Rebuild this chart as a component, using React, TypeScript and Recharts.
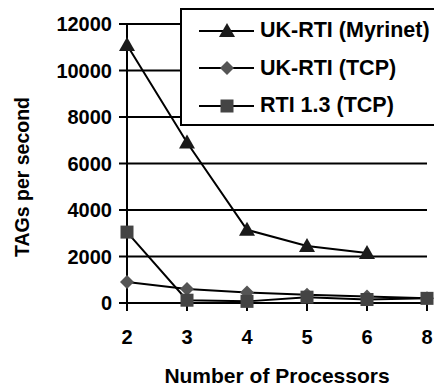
import { CartesianGrid, Label, Legend, Line, LineChart, XAxis, YAxis } from 'recharts'

// 데이터
const processors = ['2', '3', '4', '5', '6', '8']
const ukRtiMyrinet = [11100, 6900, 3150, 2450, 2150, null]
const ukRtiTcp = [900, 600, 450, 350, 280, 200]
const rti13Tcp = [3050, 120, 70, 250, 150, 200]
const yTicks = [0, 2000, 4000, 6000, 8000, 10000, 12000]

const FONT = '"Liberation Sans", Arial, sans-serif'

const SERIES = [
  { key: 'myrinet', label: 'UK-RTI (Myrinet)', color: '#1a1a1a', shape: 'triangle' },
  { key: 'tcp', label: 'UK-RTI (TCP)', color: '#555555', shape: 'diamond' },
  { key: 'rti', label: 'RTI 1.3 (TCP)', color: '#444444', shape: 'square' },
]

const data = processors.map((p, i) => ({
  n: p,
  myrinet: ukRtiMyrinet[i],
  tcp: ukRtiTcp[i],
  rti: rti13Tcp[i],
}))

function Marker({ cx, cy, shape, color }: { cx: number; cy: number; shape: string; color: string }) {
  if (cx == null || cy == null) return null
  if (shape === 'triangle') {
    return <polygon points={`${cx},${cy - 8} ${cx + 8},${cy + 6} ${cx - 8},${cy + 6}`} fill={color} />
  }
  if (shape === 'diamond') {
    return <polygon points={`${cx},${cy - 7} ${cx + 7},${cy} ${cx},${cy + 7} ${cx - 7},${cy}`} fill={color} />
  }
  return <rect x={cx - 6.5} y={cy - 6.5} width={13} height={13} fill={color} />
}

function LegendBox() {
  return (
    <div
      style={{
        background: '#fff',
        border: '2px solid #000',
        width: 270,
        height: 118,
        boxSizing: 'border-box',
        paddingTop: 2,
        fontFamily: FONT,
        fontWeight: 'bold',
        fontSize: 21.5,
      }}
    >
      {SERIES.map((s) => (
        <div key={s.key} style={{ display: 'flex', alignItems: 'center', height: 37.5 }}>
          <svg width={76} height={20} style={{ flex: 'none' }}>
            <line x1={17} y1={10} x2={72} y2={10} stroke="#000" strokeWidth={2} />
            <Marker cx={45} cy={10} shape={s.shape} color={s.color} />
          </svg>
          <span style={{ marginLeft: 2, color: '#000', whiteSpace: 'nowrap' }}>{s.label}</span>
        </div>
      ))}
    </div>
  )
}

const tickStyle = { fill: '#000', fontSize: 20, fontWeight: 'bold', fontFamily: FONT }

export default function App() {
  return (
    <div style={{ position: 'absolute', left: 0, top: 0, width: 434, height: 387, overflow: 'hidden', background: '#fff' }}>
      <LineChart
        width={434}
        height={387}
        data={data}
        margin={{ top: 24, right: 7, left: 57, bottom: 54 }}
      >
        <CartesianGrid vertical={false} stroke="#000" strokeWidth={2} />
        <XAxis
          dataKey="n"
          axisLine={{ stroke: '#000', strokeWidth: 2 }}
          tickLine={{ stroke: '#000', strokeWidth: 2 }}
          tickSize={8}
          tickMargin={19}
          tick={tickStyle}
          interval={0}
        >
          <Label
            content={() => (
              <text x={277} y={383} textAnchor="middle" fill="#000" fontSize={21} fontWeight="bold" fontFamily={FONT}>
                Number of Processors
              </text>
            )}
          />
        </XAxis>
        <YAxis
          width={70}
          domain={[0, 12000]}
          ticks={yTicks}
          interval={0}
          axisLine={{ stroke: '#000', strokeWidth: 2 }}
          tickLine={{ stroke: '#000', strokeWidth: 2 }}
          tickSize={8}
          tickMargin={7}
          tick={tickStyle}
        >
          <Label
            content={() => (
              <text
                x={29}
                y={177}
                transform="rotate(-90 29 177)"
                textAnchor="middle"
                fill="#000"
                fontSize={19.5}
                fontWeight="bold"
                fontFamily={FONT}
              >
                TAGs per second
              </text>
            )}
          />
        </YAxis>
        <Legend
          layout="vertical"
          align="center"
          verticalAlign="middle"
          content={() => <LegendBox />}
          wrapperStyle={{ left: 180, top: 8, width: 270 }}
        />
        {SERIES.map((s) => (
          <Line
            key={s.key}
            dataKey={s.key}
            name={s.label}
            type="linear"
            stroke="#000"
            strokeWidth={2}
            isAnimationActive={false}
            activeDot={false}
            dot={(props: any) => (
              <Marker key={`${s.key}-${props.index}`} cx={props.cx} cy={props.cy} shape={s.shape} color={s.color} />
            )}
          />
        ))}
      </LineChart>
    </div>
  )
}
